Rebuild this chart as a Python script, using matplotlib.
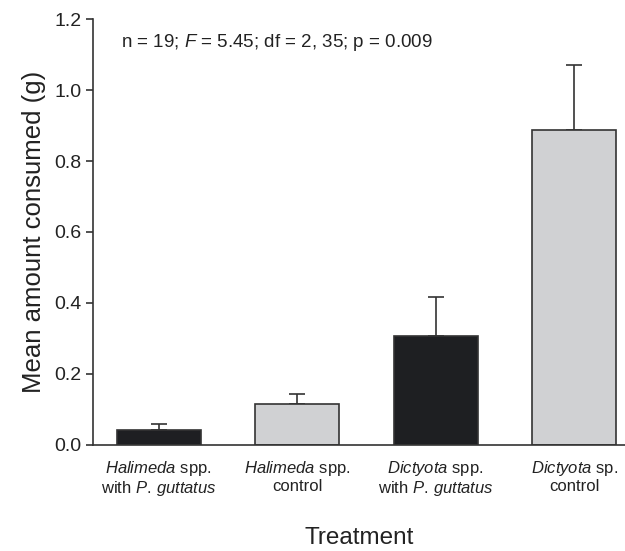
import numpy as np
import matplotlib.pyplot as plt

plt.rcParams['font.family'] = ['Liberation Sans', 'DejaVu Sans']
plt.rcParams['mathtext.fontset'] = 'custom'
plt.rcParams['mathtext.rm'] = 'Liberation Sans'
plt.rcParams['mathtext.it'] = 'Liberation Sans:italic'

# data
labels = ['$\\it{Halimeda}$ spp.\nwith $\\it{P.\\,guttatus}$',
          '$\\it{Halimeda}$ spp.\ncontrol',
          '$\\it{Dictyota}$ spp.\nwith $\\it{P.\\,guttatus}$',
          '$\\it{Dictyota}$ sp.\ncontrol']
means = [0.042, 0.116, 0.308, 0.887]
errors = [0.017, 0.029, 0.109, 0.183]
colors = ['#1e1f22', '#d0d1d3', '#1e1f22', '#d0d1d3']

fig = plt.figure(figsize=(6.25, 5.51), dpi=100)
ax = fig.add_axes([0.1488, 0.1924, 0.8512, 0.7731])

x = np.arange(len(means))
ax.bar(x, means, width=0.606, color=colors, edgecolor='#333333', linewidth=1.2, zorder=2)
ax.errorbar(x, means, yerr=[np.zeros(len(errors)), errors], fmt='none',
            ecolor='#333333', elinewidth=1.2, capsize=6, capthick=1.2, zorder=1)

ax.set_xlim(-0.473, 3.366)
ax.set_ylim(0, 1.2)
ax.set_yticks(np.arange(0, 1.21, 0.2))
ax.set_yticklabels(['%.1f' % v for v in np.arange(0, 1.21, 0.2)], fontsize=14, color='#222222')
ax.set_xticks(x)
ax.set_xticklabels(labels, fontsize=12, color='#222222', linespacing=1.1)
ax.tick_params(axis='x', length=0, pad=10)
ax.tick_params(axis='y', length=5, width=1.2, color='#333333', pad=3.5)

for s in ['top', 'right']:
    ax.spines[s].set_visible(False)
for s in ['left', 'bottom']:
    ax.spines[s].set_linewidth(1.2)
    ax.spines[s].set_color('#333333')

ax.set_ylabel('Mean amount consumed (g)', fontsize=18.5, color='#222222', labelpad=6)
ax.set_xlabel('Treatment', fontsize=17.5, color='#222222', labelpad=21)

ax.text(-0.27, 1.135, 'n = 19; $\\it{F}$ = 5.45; df = 2, 35; p = 0.009',
        fontsize=13.5, color='#222222', va='center')

fig.savefig('out.png', dpi=100)
